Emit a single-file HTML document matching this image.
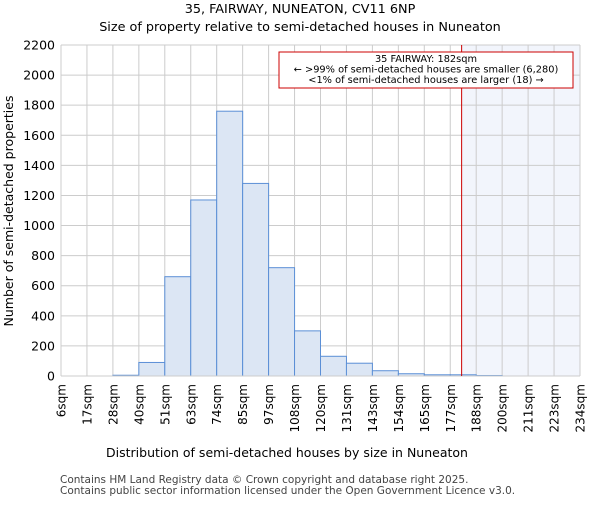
<!DOCTYPE html>
<html><head><meta charset="utf-8"><style>
body{margin:0;background:#fff}
svg{font-family:"DejaVu Sans","Liberation Sans",sans-serif}
</style></head><body>
<svg id="c" width="600" height="500" xmlns="http://www.w3.org/2000/svg">
<text x="300" y="13" text-anchor="middle" font-size="12.8">35, FAIRWAY, NUNEATON, CV11 6NP</text>
<text x="300" y="31" text-anchor="middle" font-size="12.8">Size of property relative to semi-detached houses in Nuneaton</text>
<g id="grid"></g><g id="bars"></g><g id="axes"></g>
<text x="287" y="457" text-anchor="middle" font-size="12.5">Distribution of semi-detached houses by size in Nuneaton</text>
<text transform="translate(13,211) rotate(-90)" text-anchor="middle" font-size="12.5">Number of semi-detached properties</text>
<text x="60" y="483" font-size="10.5" fill="#444">Contains HM Land Registry data © Crown copyright and database right 2025.</text>
<text x="60" y="494" font-size="10.5" fill="#444">Contains public sector information licensed under the Open Government Licence v3.0.</text>
</svg>
<script>
const tickLabels=["6sqm","17sqm","28sqm","40sqm","51sqm","63sqm","74sqm","85sqm","97sqm","108sqm","120sqm","131sqm","143sqm","154sqm","165sqm","177sqm","188sqm","200sqm","211sqm","223sqm","234sqm"];
const counts=[0,0,5,90,660,1170,1760,1280,720,300,131,85,35,15,8,8,3,0,0,0];
const yTicks=[0,200,400,600,800,1000,1200,1400,1600,1800,2000,2200];
const subjectSize=182;
const minX=6,maxX=234,binW=11.4;
const NS="http://www.w3.org/2000/svg";
const X0=61,X1=580,Y0=376,Y1=45;
const xs=v=>X0+(v-minX)/(maxX-minX)*(X1-X0);
const ys=v=>Y0-v/2200*(Y0-Y1);
function mk(t,a,p){const e=document.createElementNS(NS,t);for(const k in a)e.setAttribute(k,a[k]);p.appendChild(e);return e;}
const grid=document.getElementById('grid'),bars=document.getElementById('bars'),axes=document.getElementById('axes');
const sx=xs(subjectSize);
const shade=mk('rect',{x:sx,y:Y1,width:X1-sx,height:Y0-Y1,fill:'#f2f5fc'},grid);


yTicks.forEach(v=>{
  const l=mk('line',{x1:X0,x2:X1,y1:ys(v),y2:ys(v),stroke:'#ccc'},grid);
  
  
  const t=mk('text',{x:X0-6,y:ys(v)+4.5,'text-anchor':'end','font-size':12.5},axes);
  t.textContent=v;
  
  
});
tickLabels.forEach((s,i)=>{
  const x=xs(minX+i*binW);
  const l=mk('line',{x1:x,x2:x,y1:Y1,y2:Y0,stroke:'#ccc'},grid);
  
  
  const t=mk('text',{transform:`translate(${x+4.5},${Y0+8}) rotate(-90)`,'text-anchor':'end','font-size':12},axes);
  t.textContent=s;
  
  
});
counts.forEach((c,i)=>{
  const a=xs(minX+i*binW),b=xs(minX+(i+1)*binW);
  const r=mk('rect',{x:a,y:ys(c),width:b-a,height:Y0-ys(c),fill:'#dce6f4',stroke:'#5b8fd6','stroke-width':1},bars);
  
  
});
const ax=mk('line',{x1:X0,x2:X1,y1:Y0,y2:Y0,stroke:'#ccc'},axes);


const ml=mk('line',{x1:sx,x2:sx,y1:Y1,y2:Y0,stroke:'#cc0000','stroke-width':1},axes);


const box=mk('rect',{x:279,y:52,width:294,height:36,fill:'#fff',stroke:'#cc0000'},axes);


["35 FAIRWAY: 182sqm","← >99% of semi-detached houses are smaller (6,280)","<1% of semi-detached houses are larger (18) →"].forEach((s,i)=>{
  const t=mk('text',{x:426,y:62+i*10.5,'text-anchor':'middle','font-size':9.8},axes);
  t.textContent=s;
  
  
});
</script>
</body></html>
